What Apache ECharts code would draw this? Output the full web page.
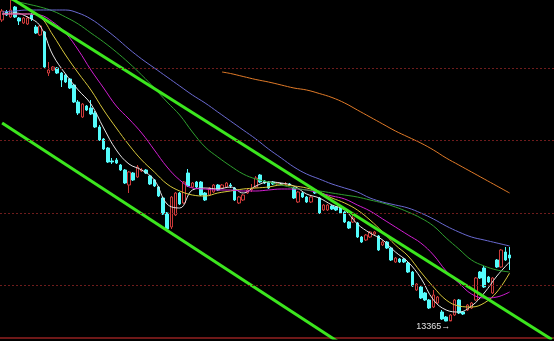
<!DOCTYPE html>
<html><head><meta charset="utf-8">
<script src="https://cdn.jsdelivr.net/npm/echarts@6/dist/echarts.min.js"></script>
<style>html,body{margin:0;padding:0;background:#000;}#c{width:554px;height:341px;}</style>
</head><body><div id="c"></div>
<script>
// candles: [open, close, low, high]
const candles = [
[14570,14606,14562,14614],[14602,14590,14586,14610],[14582,14610,14578,14650],[14622,14582,14578,14626],
[14578,14566,14550,14582],[14558,14578,14554,14582],[14554,14578,14550,14586],[14590,14574,14566,14598],
[14542,14518,14514,14550],[14510,14546,14506,14550],[14522,14382,14378,14526],[14358,14370,14346,14402],
[14370,14382,14366,14386],[14378,14358,14354,14382],[14358,14330,14302,14362],[14350,14322,14318,14354],
[14334,14298,14294,14338],[14310,14242,14238,14314],[14242,14198,14190,14250],[14182,14234,14178,14238],
[14226,14210,14206,14230],[14218,14194,14190,14250],[14198,14142,14138,14206],[14142,14090,14086,14150],
[14094,14054,14050,14098],[14058,14002,13998,14062],[14006,14002,13994,14018],[14010,13998,13994,14018],
[13990,13970,13966,13994],[13970,13918,13914,13974],[13910,13962,13878,13966],[13958,13930,13926,13962],
[13942,13982,13938,13990],[13966,13970,13962,13978],[13970,13958,13954,13974],[13946,13914,13910,13950],
[13930,13906,13902,13934],[13902,13866,13862,13906],[13858,13794,13790,13862],[13798,13734,13730,13802],
[13742,13862,13734,13866],[13790,13878,13786,13882],[13878,13834,13830,13882],[13838,13922,13834,13926],
[13958,13906,13902,13974],[13902,13918,13898,13922],[13922,13902,13898,13926],[13922,13870,13866,13926],
[13878,13850,13846,13882],[13870,13898,13866,13902],[13882,13910,13878,13914],[13910,13890,13886,13914],
[13898,13910,13894,13914],[13902,13918,13898,13922],[13910,13906,13898,13918],[13898,13850,13846,13902],
[13838,13862,13834,13866],[13850,13870,13846,13874],[13878,13890,13874,13894],[13890,13894,13882,13914],
[13902,13938,13898,13946],[13950,13922,13918,13954],[13926,13918,13914,13930],[13922,13898,13894,13926],
[13922,13914,13910,13926],[13914,13918,13910,13922],[13914,13914,13910,13918],[13914,13916,13910,13922],
[13914,13910,13906,13918],[13898,13858,13854,13902],[13842,13882,13838,13886],[13878,13862,13858,13882],
[13862,13842,13838,13866],[13842,13862,13838,13866],[13890,13878,13874,13894],[13858,13798,13794,13862],
[13810,13830,13806,13834],[13810,13830,13806,13834],[13826,13814,13810,13830],[13822,13810,13806,13826],
[13818,13798,13794,13822],[13802,13762,13758,13806],[13762,13738,13734,13766],[13762,13778,13758,13794],
[13758,13702,13698,13762],[13702,13682,13678,13706],[13690,13710,13686,13714],[13702,13722,13698,13726],
[13714,13722,13710,13726],[13706,13650,13646,13710],[13670,13682,13666,13690],[13682,13658,13654,13686],
[13658,13610,13606,13662],[13602,13618,13598,13622],[13614,13602,13598,13618],[13614,13602,13598,13618],
[13598,13562,13558,13602],[13562,13506,13502,13566],[13490,13514,13486,13518],[13502,13458,13454,13506],
[13478,13450,13446,13482],[13450,13418,13414,13454],[13422,13470,13418,13490],[13438,13462,13434,13466],
[13402,13374,13370,13410],[13382,13366,13365,13386],[13366,13390,13370,13394],[13390,13450,13386,13454],
[13450,13398,13394,13454],[13402,13394,13390,13406],[13410,13430,13406,13434],[13418,13438,13414,13442],
[13450,13538,13446,13542],[13562,13538,13534,13566],[13578,13502,13498,13586],[13542,13522,13518,13546],
[13478,13538,13474,13542],[13610,13582,13578,13614],[13582,13650,13578,13654],[13642,13610,13606,13662],
[13630,13618,13570,13662]
];
const slotCount = 131;
const categories = Array.from({length: slotCount}, (_, i) => String(i + 1));

// moving averages read at these candle positions
const maIdx = [0,3,6,9,12,15,18,21,24,27,30,33,36,39,42,45,48,51,54,57,60,63,66,69,72,75,78,81,84,87,90,93,96,99,102,105,108,111,114,117,120];
const ma5 = [14594,14598,14582,14546,14430,14354,14290,14234,14138,14050,13994,13970,13930,13834,13818,13890,13898,13894,13902,13878,13906,13922,13918,13906,13874,13858,13830,13810,13754,13718,13690,13642,13602,13538,13450,13410,13402,13426,13478,13546,13602];
const ma10 = [14594,14594,14594,14582,14510,14430,14358,14290,14210,14138,14070,14010,13962,13914,13886,13870,13866,13878,13886,13894,13898,13902,13910,13906,13898,13882,13858,13838,13810,13770,13722,13670,13626,13562,13502,13450,13426,13422,13438,13482,13558];
const ma20 = [14594,14594,14594,14590,14562,14518,14450,14370,14298,14226,14174,14118,14050,13982,13930,13898,13894,13890,13890,13886,13886,13890,13894,13894,13890,13878,13866,13854,13830,13806,13774,13742,13710,13678,13630,13566,13518,13474,13458,13462,13482];
const ma30 = [14662,14646,14634,14622,14606,14582,14554,14518,14482,14442,14398,14350,14298,14242,14190,14122,14062,14022,13986,13954,13934,13922,13910,13898,13890,13886,13878,13870,13862,13850,13838,13822,13802,13778,13746,13698,13654,13610,13586,13570,13562];
const ma60 = [14602,14606,14610,14610,14610,14610,14598,14574,14538,14498,14454,14414,14378,14342,14306,14270,14238,14202,14166,14130,14094,14054,14018,13982,13954,13934,13914,13898,13882,13858,13842,13830,13818,13798,13774,13746,13722,13702,13690,13678,13666];
const longIdx = [52,54,57,60,63,66,69,72,75,78,81,84,87,90,93,96,99,102,105,108,111,114,117,120];
const maLong = [14362,14356,14344,14332,14322,14310,14298,14290,14276,14260,14238,14210,14182,14154,14126,14102,14078,14050,14018,13990,13962,13934,13906,13878];

// channel trend lines: [slot, price]
const trendUpper = [[0,14680],[130,13292]];
const trendLower = [[0,14158],[130,12726]];

const gridLevels = [14378,14089,13799,13510];
const lowMark = {slot:105, price:13365};
const yMin = 13298, yMax = 14650;

const pair = (idx, vals) => idx.map((k, j) => [k, vals[j]]);
const maLine = (name, idx, vals, color) => ({
  name, type:'line', data: pair(idx, vals), showSymbol:false, symbol:'none',
  smooth:0.4, lineStyle:{color, width:1}, silent:true, z:3
});

const chart = echarts.init(document.getElementById('c'), null, {renderer:'canvas'});
chart.setOption({
  backgroundColor:'#000',
  animation:false,
  grid:{left:-1, right:0, top:0, bottom:3, containLabel:false},
  xAxis:{type:'category', data:categories, boundaryGap:true,
    axisLine:{show:true, lineStyle:{color:'#6e1818', width:2}},
    axisTick:{show:false}, axisLabel:{show:false}, splitLine:{show:false}},
  yAxis:{type:'value', min:yMin, max:yMax, show:true,
    axisLine:{show:false}, axisTick:{show:false}, axisLabel:{show:false}, splitLine:{show:false}},
  series:[
    {type:'candlestick', data:candles, barWidth:3, z:2,
      itemStyle:{color:'#000', color0:'#54fcfc', borderColor:'#cc3a3a', borderColor0:'#54fcfc', borderColorDoji:'#ffffff', borderWidth:1},
      markLine:{symbol:'none', silent:true, label:{show:false},
        lineStyle:{color:'#6e1c1c', type:[2,2], width:1},
        data: gridLevels.map(v => ({yAxis:v}))},
      markPoint:{symbol:'circle', symbolSize:0, silent:true,
        data:[{coord:[lowMark.slot, lowMark.price], value:lowMark.price}],
        label:{show:true, position:'left', distance:0, offset:[4,5], formatter:'{c}→',
          color:'#e0e0e0', fontSize:9, fontFamily:'Liberation Sans, Arial, sans-serif'}}
    },
    maLine('MA5', maIdx, ma5, '#e6e6e6'),
    maLine('MA10', maIdx, ma10, '#d8c83c'),
    maLine('MA20', maIdx, ma20, '#d21ed2'),
    maLine('MA30', maIdx, ma30, '#2e9e2e'),
    maLine('MA60', maIdx, ma60, '#6a6ad2'),
    maLine('MA250', longIdx, maLong, '#e07a28'),
    {type:'line', data:trendUpper, symbol:'none', clip:true, silent:true, z:4, lineStyle:{color:'#3ce61e', width:3}},
    {type:'line', data:trendLower, symbol:'none', clip:true, silent:true, z:4, lineStyle:{color:'#3ce61e', width:3}}
  ]
});
</script></body></html>
